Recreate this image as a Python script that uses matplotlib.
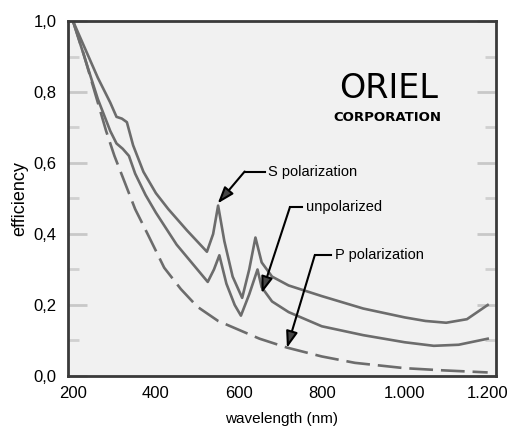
import matplotlib
matplotlib.use("Agg")
import matplotlib.pyplot as plt
from matplotlib.ticker import FixedLocator, FixedFormatter, MultipleLocator

plt.rcParams['font.family'] = ['Liberation Sans', 'DejaVu Sans']

# S polarization
wl_s = [200, 230, 260, 290, 305, 318, 330, 345, 370, 400, 430, 475, 523, 538,
        550, 565, 585, 608, 625, 640, 655, 680, 720, 800, 900, 1000, 1050,
        1100, 1150, 1200]
eff_s = [1.0, 0.92, 0.84, 0.77, 0.73, 0.725, 0.715, 0.65, 0.575, 0.515, 0.47,
         0.41, 0.35, 0.40, 0.48, 0.38, 0.28, 0.22, 0.30, 0.39, 0.32, 0.28,
         0.255, 0.225, 0.19, 0.165, 0.155, 0.15, 0.16, 0.20]

# unpolarized
wl_u = [200, 230, 260, 290, 305, 320, 335, 350, 375, 400, 450, 500, 525, 540,
        553, 570, 590, 605, 625, 645, 655, 680, 720, 800, 900, 1000, 1070,
        1130, 1200]
eff_u = [1.0, 0.89, 0.78, 0.69, 0.655, 0.64, 0.62, 0.57, 0.51, 0.46, 0.37,
         0.30, 0.265, 0.30, 0.34, 0.26, 0.20, 0.17, 0.23, 0.30, 0.25, 0.21,
         0.18, 0.14, 0.115, 0.095, 0.085, 0.088, 0.105]

# P polarization
wl_p = [200, 225, 250, 280, 300, 330, 350, 380, 420, 460, 500, 550, 600, 650,
        716, 800, 880, 1000, 1090, 1200]
eff_p = [1.0, 0.91, 0.81, 0.69, 0.62, 0.53, 0.47, 0.40, 0.305, 0.245, 0.195,
         0.155, 0.13, 0.105, 0.08, 0.055, 0.037, 0.022, 0.016, 0.01]

x_ticks = [200, 400, 600, 800, 1000, 1200]
x_ticklabels = ['200', '400', '600', '800', '1.000', '1.200']
y_ticks = [0.0, 0.2, 0.4, 0.6, 0.8, 1.0]
y_ticklabels = ['0,0', '0,2', '0,4', '0,6', '0,8', '1,0']

# label text, (tip, bend) in data coords
labels = ['S polarization', 'unpolarized', 'P polarization']
tips = [(549, 0.486), (655, 0.233), (716, 0.079)]
bends = [(614, 0.576), (723, 0.475), (783, 0.34)]
text_x = [670, 761, 831]

fig = plt.figure(figsize=(5.10, 4.26), dpi=100)
fig.patch.set_facecolor('white')
ax = fig.add_axes([0.1333, 0.1174, 0.8392, 0.8333])
ax.set_facecolor('#f1f1f1')

line_c = '#6c6c6c'
ax.plot(wl_s, eff_s, c=line_c, lw=1.9)
ax.plot(wl_u, eff_u, c=line_c, lw=1.9)
ax.plot(wl_p, eff_p, c=line_c, lw=1.9, dashes=(9, 3))

for lab, tip, bend, tx in zip(labels, tips, bends, text_x):
    ax.plot([bend[0], tx - 8], [bend[1], bend[1]], c='k', lw=1.5)
    ax.annotate('', xy=tip, xytext=bend,
                arrowprops=dict(arrowstyle='-|>,head_length=1.0,head_width=0.35',
                                fc='#444444', ec='k', lw=1.5,
                                shrinkA=0, shrinkB=0))
    ax.text(tx, bend[1], lab, fontsize=10.5, va='center', ha='left')

ax.text(962, 0.81, 'ORIEL', fontsize=24, ha='center', va='center',
        family='DejaVu Sans')
ax.text(957, 0.729, 'CORPORATION', fontsize=9.5, fontweight='bold',
        ha='center', va='center', family='DejaVu Sans')

ax.set_xlim(188, 1220)
ax.set_ylim(0, 1.0)

ax.xaxis.set_major_locator(FixedLocator(x_ticks))
ax.xaxis.set_major_formatter(FixedFormatter(x_ticklabels))
ax.yaxis.set_major_locator(FixedLocator(y_ticks))
ax.yaxis.set_major_formatter(FixedFormatter(y_ticklabels))
ax.yaxis.set_minor_locator(MultipleLocator(0.1))

ax.tick_params(axis='x', which='major', length=0, pad=7, labelsize=12)
ax.tick_params(axis='y', which='major', direction='in', length=14, width=2,
               color='#c8c8c8', pad=8, labelsize=12, right=True)
ax.tick_params(axis='y', which='minor', direction='in', length=8, width=2,
               color='#d0d0d0', right=True)

for sp in ax.spines.values():
    sp.set_linewidth(2)
    sp.set_color('#3a3a3a')

ax.set_xlabel('wavelength (nm)', fontsize=11, labelpad=8)
ax.set_ylabel('efficiency', fontsize=13, labelpad=4)

fig.savefig('out.png', dpi=100)
